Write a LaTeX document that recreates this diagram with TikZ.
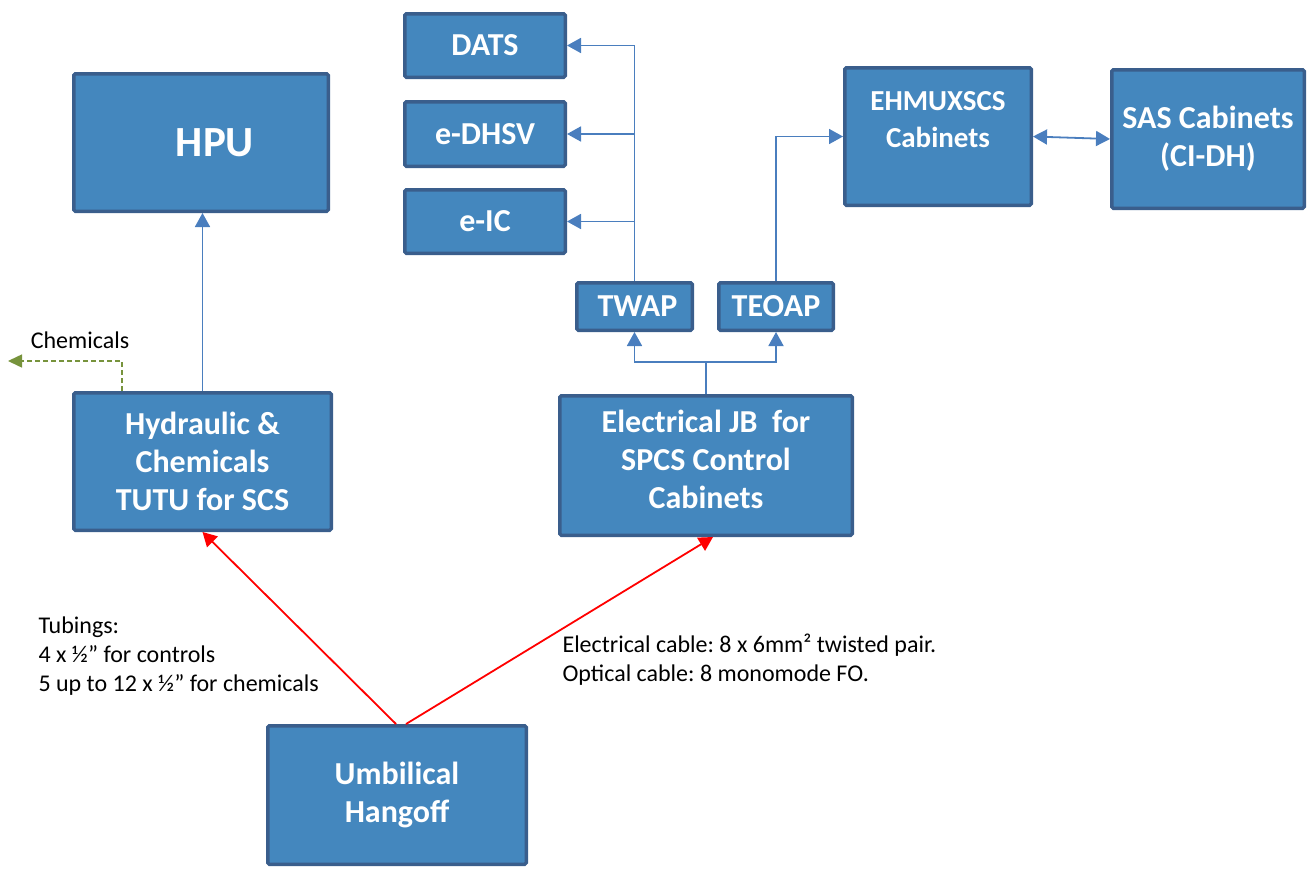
\documentclass[tikz,border=0pt]{standalone}
\usepackage{fontspec}
\setmainfont{Carlito}
\frenchspacing
\usetikzlibrary{arrows.meta,positioning,calc}
\definecolor{boxfill}{RGB}{68,135,190}
\definecolor{boxline}{RGB}{58,94,140}
\definecolor{linkblue}{RGB}{74,126,190}
\definecolor{chemgreen}{RGB}{119,147,60}
\begin{document}
\begin{tikzpicture}[x=1pt, y=-1pt,
        box/.style={draw=boxline, line width=3.5pt, fill=boxfill, rounded corners=1.5pt,
          text=white, align=center, inner sep=0pt,
          font=\bfseries\fontsize{32}{38}\selectfont},
        boxtext/.style={text=white, align=center, font=\bfseries\fontsize{32}{38}\selectfont},
        link/.style={draw=linkblue, line width=1.8pt, -{Triangle[length=14pt, width=15pt]}},
        feed/.style={draw=red, line width=1.8pt, -{Triangle[length=14pt, width=15pt]}},
        chem/.style={draw=chemgreen, line width=1.5pt, dash pattern=on 5pt off 3pt,
          -{Triangle[length=14pt, width=13pt]}},
        note/.style={align=left, font=\fontsize{24}{29}\selectfont}
        ]
        \useasboundingbox (0,0) rectangle (1311,870);
        \node[box, minimum width=254.5pt, minimum height=137.5pt] (hpu) at (201,142.5)
          {\fontsize{43}{50}\selectfont\hspace*{28pt}HPU};
        \node[box, minimum width=257.5pt, minimum height=137.5pt] (hyd) at (202.5,461.5)
          {Hydraulic \&\\Chemicals\\TUTU for SCS};
        \node[box, minimum width=160.5pt, minimum height=63.5pt] (dats) at (485,45.5) {DATS};
        \node[box, minimum width=160.5pt, minimum height=64.5pt] (dhsv) at (485,134) {e-DHSV};
        \node[box, minimum width=160.5pt, minimum height=63.5pt] (eic) at (485,221.5) {e-IC};
        \node[box, minimum width=115.5pt, minimum height=47.5pt] (twap) at (634.5,306.5)
          {\hspace*{6pt}TWAP};
        \node[box, minimum width=114.5pt, minimum height=47.5pt] (teoap) at (776,306.5) {TEOAP};
        \node[box, minimum width=292.5pt, minimum height=139.5pt,
          label={[boxtext, yshift=6pt]center:Electrical JB~ for\\SPCS Control\\Cabinets}]
          (jb) at (706,465.5) {};
        \node[box, minimum width=186.5pt, minimum height=137.5pt,
          label={[boxtext, font=\bfseries\fontsize{29}{37}\selectfont, yshift=16.5pt]center:EHMUXSCS\\Cabinets}]
          (ehmux) at (938,136.5) {};
        \node[box, minimum width=192.5pt, minimum height=138.5pt] (sas) at (1208,139)
          {SAS Cabinets\\(CI-DH)};
        \node[box, minimum width=258.5pt, minimum height=138.5pt] (umb) at (397,795)
          {Umbilical\\Hangoff};

        \draw[link] (hyd.north) -- (hyd.north |- hpu.south);
        \draw[link] (twap.north) |- (dats.east);
        \draw[link] (twap.north) |- (dhsv.east);
        \draw[link] (twap.north) |- (eic.east);
        \draw[link] (teoap.north) |- (ehmux.west);
        \draw[link, {Triangle[length=14pt, width=15pt]}-{Triangle[length=14pt, width=15pt]}]
          (ehmux.east) -- (sas.west);
        \coordinate (fork) at (jb.north |- 0,362);
        \draw[draw=linkblue, line width=1.8pt] (jb.north) -- (fork);
        \draw[link] (fork) -| (twap.south);
        \draw[link] (fork) -| (teoap.south);

        \coordinate (chemout) at (8,361);
        \draw[chem] ([xshift=-80.5pt]hyd.north) |- (chemout);
        \node[note] (chemlbl) at (80,340) {Chemicals};

        \draw[feed] ([xshift=-1pt]umb.north) -- (hyd.south);
        \draw[feed] ([xshift=9pt]umb.north) -- ([xshift=7pt]jb.south);

        \node[note, anchor=west] (tubes) at (35,656)
          {Tubings:\\4 x ½” for controls\\5 up to 12 x ½” for chemicals};
        \node[note, anchor=west] (cables) at (559,660)
          {Electrical cable: 8 x 6mm² twisted pair.\\Optical cable: 8 monomode FO.};
      \end{tikzpicture}
\end{document}
